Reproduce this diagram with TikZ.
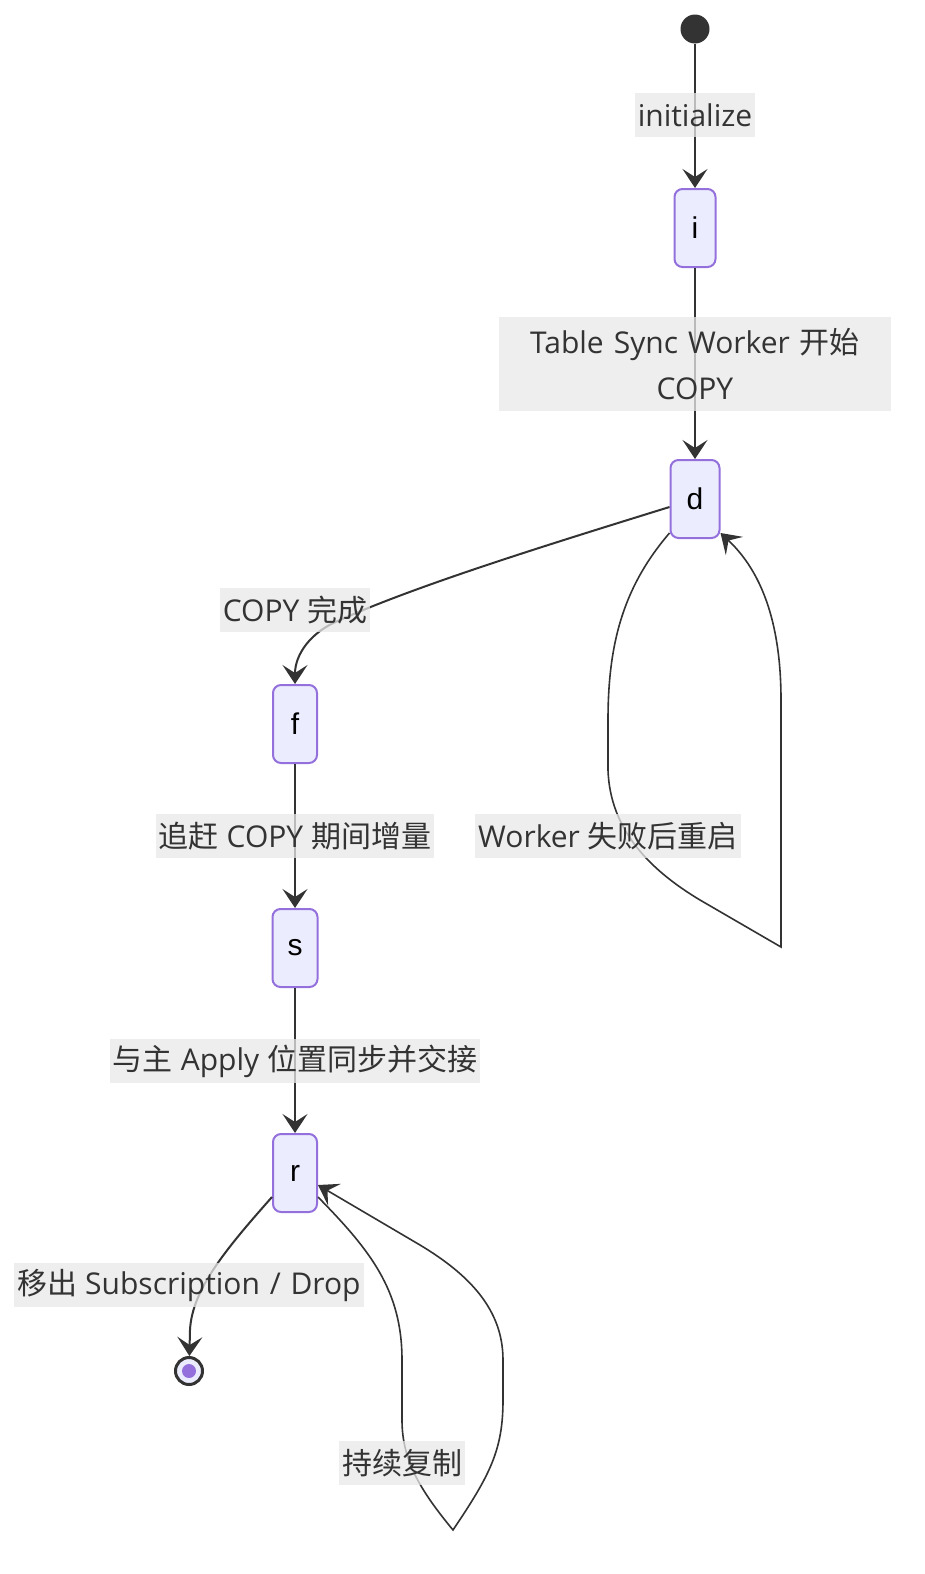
\documentclass[tikz,border=0pt]{standalone}
\usepackage{fontspec}
\setmainfont{Open Sans}
\newfontfamily\zhfont{Noto Sans CJK SC}
\newfontfamily\statefont{Liberation Sans}
\newcommand{\zh}[1]{{\zhfont #1}}
\usetikzlibrary{arrows.meta, positioning}
\definecolor{stfill}{HTML}{ECECFF}
\definecolor{stline}{HTML}{9370DB}
\definecolor{ink}{HTML}{333333}
\definecolor{lblbg}{HTML}{E8E8E8}

\begin{document}
\begin{tikzpicture}[
    x=1pt, y=-1pt,
    state/.style={draw=stline, fill=stfill, line width=2pt, rounded corners=8pt,
                  minimum height=78pt, minimum width=44pt, inner xsep=15pt, inner ysep=0pt,
                  font=\statefont\fontsize{30}{34}\selectfont, text=black},
    lbl/.style={fill=lblbg, fill opacity=0.75, text opacity=1, text=ink,
                font=\fontsize{30}{46}\selectfont, inner xsep=3pt, inner ysep=0pt,
                minimum height=44pt, align=center},
    arr/.style={-{Stealth[length=19pt, width=25pt, inset=8pt]}, line width=2pt, draw=ink},
    loopline/.style={line width=1.6pt},
]
\useasboundingbox (0,0) rectangle (924,1574);

% States
\node[circle, fill=ink, minimum size=29pt, inner sep=0pt] (start) at (695,29) {};
\node[state, minimum width=41pt] (i) at (695,228)  {i};
\node[state, minimum width=49pt] (d) at (695,499)  {d};
\node[state] (f) at (295,724)  {f};
\node[state] (s) at (295,948)  {s};
\node[state] (r) at (295,1173) {r};
\node[circle, draw=ink, line width=3pt, fill=stfill, minimum size=27pt, inner sep=0pt] (stop) at (189,1371) {};
\node[circle, fill=stline, minimum size=14pt, inner sep=0pt] (stopdot) at (stop) {};

% Transitions
\draw[arr] (start) -- (i);
\draw[arr] (i) -- (d);
\draw[arr] ([yshift=-8pt]d.west) .. controls (560,541) and (420,584) .. (340,620)
           .. controls (310,632) and (295,655) .. (f.north);
\draw[arr] (f) -- (s);
\draw[arr] (s) -- (r);
\draw[arr] ([yshift=-24pt]r.west) .. controls (225,1250) and (192,1290) .. (190,1330) -- (stop);

% Self loops
\draw[arr, loopline] ([yshift=6pt]d.south west) .. controls (625,585) and (608,640) .. (608,720)
           -- (608,770) .. controls (610,830) and (650,870) .. (700,900) -- (781,947)
           -- (781,700) .. controls (781,620) and (760,570) .. ([yshift=6pt]d.south east);
\draw[arr, loopline] ([yshift=-24pt]r.east) .. controls (370,1250) and (402,1290) .. (402,1360)
           -- (402,1420) .. controls (402,1460) and (420,1490) .. (453,1530)
           .. controls (490,1475) and (503,1450) .. (503,1400) -- (503,1360)
           .. controls (503,1310) and (470,1275) .. (420,1245) -- ([yshift=-12pt]r.east);

% Labels
\node[lbl] (linit)  at (695,115)  {initialize};
\node[lbl, text width=386pt, minimum height=94pt] (lcopy) at (695,364)
      {Table Sync Worker \zh{开始}\\COPY};
\node[lbl] (ldone)  at (295,610)  {COPY \zh{完成}};
\node[lbl] (lcatch) at (295,836)  {\zh{追赶} COPY \zh{期间增量}};
\node[lbl] (lhand)  at (295,1061) {\zh{与主} Apply \zh{位置同步并交接}};
\node[lbl] (ldrop)  at (189,1285) {\zh{移出} Subscription\hspace{2pt} /\hspace{2pt} Drop};
\node[lbl] (lretry) at (608,836)  {Worker \zh{失败后重启}};
\node[lbl] (lrepl)  at (402,1463) {\zh{持续复制}};
\end{tikzpicture}
\end{document}
